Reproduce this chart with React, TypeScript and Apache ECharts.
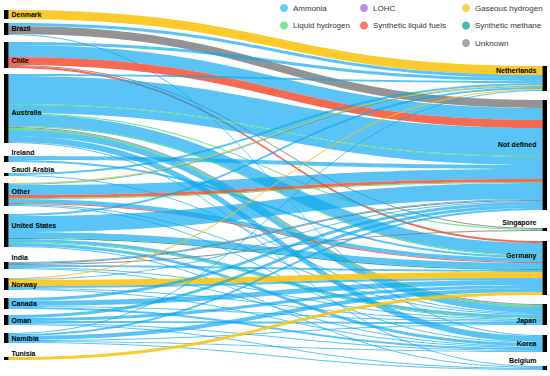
import React, { useEffect, useRef } from 'react';
import * as echarts from 'echarts';

// ---------- data ----------
const exporters = ['Denmark', 'Brazil', 'Chile', 'Australia', 'Ireland', 'Saudi Arabia', 'Other', 'United States', 'India', 'Norway', 'Canada', 'Oman', 'Namibia', 'Tunisia'];
const importers = ['Netherlands', 'Not defined', 'Singapore', 'Germany', 'Japan', 'Korea', 'Belgium'];
const carriers = ['Ammonia', 'LOHC', 'Gaseous hydrogen', 'Liquid hydrogen', 'Synthetic liquid fuels', 'Synthetic methane', 'Unknown'];

// [exporter, importer, carrier, volume]
const flows: [string, string, string, number][] = [
  ['Denmark', 'Netherlands', 'Gaseous hydrogen', 9],
  ['Brazil', 'Netherlands', 'Ammonia', 3],
  ['Brazil', 'Not defined', 'Unknown', 8],
  ['Brazil', 'Korea', 'Ammonia', 1],
  ['Chile', 'Netherlands', 'Ammonia', 3],
  ['Chile', 'Not defined', 'Ammonia', 12],
  ['Chile', 'Not defined', 'Synthetic liquid fuels', 8],
  ['Chile', 'Singapore', 'Unknown', 1],
  ['Chile', 'Germany', 'Synthetic liquid fuels', 2],
  ['Australia', 'Netherlands', 'Ammonia', 2],
  ['Australia', 'Not defined', 'Ammonia', 28],
  ['Australia', 'Not defined', 'Liquid hydrogen', 1],
  ['Australia', 'Not defined', 'Ammonia', 8],
  ['Australia', 'Singapore', 'Liquid hydrogen', 1],
  ['Australia', 'Germany', 'Ammonia', 12],
  ['Australia', 'Germany', 'Liquid hydrogen', 1],
  ['Australia', 'Japan', 'LOHC', 1],
  ['Australia', 'Japan', 'Liquid hydrogen', 2],
  ['Australia', 'Japan', 'Ammonia', 6],
  ['Australia', 'Korea', 'Ammonia', 6],
  ['Australia', 'Belgium', 'Ammonia', 1],
  ['Ireland', 'Not defined', 'Ammonia', 4],
  ['Ireland', 'Germany', 'Ammonia', 2],
  ['Saudi Arabia', 'Netherlands', 'Ammonia', 2],
  ['Saudi Arabia', 'Japan', 'Ammonia', 1],
  ['Other', 'Netherlands', 'Gaseous hydrogen', 1],
  ['Other', 'Netherlands', 'Ammonia', 1],
  ['Other', 'Not defined', 'Ammonia', 10],
  ['Other', 'Not defined', 'Synthetic liquid fuels', 3],
  ['Other', 'Not defined', 'Liquid hydrogen', 1],
  ['Other', 'Germany', 'Ammonia', 4],
  ['Other', 'Germany', 'Synthetic liquid fuels', 1],
  ['Other', 'Japan', 'Ammonia', 1],
  ['Other', 'Korea', 'Ammonia', 1],
  ['United States', 'Netherlands', 'Ammonia', 2],
  ['United States', 'Not defined', 'Ammonia', 16],
  ['United States', 'Germany', 'Ammonia', 6],
  ['United States', 'Germany', 'Synthetic methane', 1],
  ['United States', 'Japan', 'Ammonia', 3],
  ['United States', 'Japan', 'Liquid hydrogen', 1],
  ['United States', 'Korea', 'Ammonia', 3],
  ['United States', 'Belgium', 'Ammonia', 1],
  ['India', 'Not defined', 'Ammonia', 1],
  ['India', 'Not defined', 'Unknown', 1],
  ['India', 'Singapore', 'Unknown', 1],
  ['India', 'Germany', 'Ammonia', 2],
  ['India', 'Japan', 'Ammonia', 1],
  ['India', 'Korea', 'Ammonia', 1],
  ['Norway', 'Netherlands', 'Gaseous hydrogen', 1],
  ['Norway', 'Not defined', 'Ammonia', 1],
  ['Norway', 'Germany', 'Gaseous hydrogen', 6],
  ['Norway', 'Germany', 'Ammonia', 2],
  ['Norway', 'Japan', 'Ammonia', 1],
  ['Norway', 'Korea', 'Ammonia', 1],
  ['Canada', 'Not defined', 'Ammonia', 3],
  ['Canada', 'Germany', 'Ammonia', 5],
  ['Canada', 'Japan', 'Ammonia', 1],
  ['Canada', 'Korea', 'Ammonia', 2],
  ['Oman', 'Not defined', 'Ammonia', 3],
  ['Oman', 'Germany', 'Ammonia', 3],
  ['Oman', 'Japan', 'Ammonia', 2],
  ['Oman', 'Korea', 'Ammonia', 1],
  ['Oman', 'Belgium', 'Ammonia', 1],
  ['Namibia', 'Netherlands', 'Ammonia', 1],
  ['Namibia', 'Not defined', 'Ammonia', 2],
  ['Namibia', 'Germany', 'Ammonia', 4],
  ['Namibia', 'Japan', 'Ammonia', 1],
  ['Namibia', 'Korea', 'Ammonia', 1],
  ['Namibia', 'Belgium', 'Ammonia', 1],
  ['Tunisia', 'Germany', 'Gaseous hydrogen', 3],
];

// ---------- layout & style ----------
const CHART_TOP = 10;
const CHART_H = 360;
const exporterTop = [10, 23, 42, 74, 156, 173, 183, 214, 262, 278, 298, 315, 333, 357];
const importerTop = [66, 100, 228, 241, 304, 335, 366];
const exporterLabelDy = [0, -1, 5, 4, -7, -5, -3, -5, -8, 0, 0, 0, 0, -5];
const importerLabelDy = [-8, -11, -7, -13, 6, 0, -8];

const legendColors: Record<string, string> = {
  'Ammonia': '#33C3F4',
  'LOHC': '#A66DE3',
  'Gaseous hydrogen': '#F9C513',
  'Liquid hydrogen': '#5CDB7A',
  'Synthetic liquid fuels': '#F4573A',
  'Synthetic methane': '#13A89A',
  'Unknown': '#909090',
};
const linkColors: Record<string, string> = {
  'Ammonia': 'rgba(10,168,240,0.68)',
  'LOHC': 'rgba(160,100,225,0.85)',
  'Gaseous hydrogen': 'rgba(249,197,19,0.9)',
  'Liquid hydrogen': 'rgba(80,218,110,0.85)',
  'Synthetic liquid fuels': 'rgba(244,80,50,0.85)',
  'Synthetic methane': 'rgba(10,160,145,0.85)',
  'Unknown': 'rgba(128,128,128,0.85)',
};
const legendColumns = [
  { left: 280, items: ['Ammonia', 'Liquid hydrogen'] },
  { left: 360, items: ['LOHC', 'Synthetic liquid fuels'] },
  { left: 462, items: ['Gaseous hydrogen', 'Synthetic methane', 'Unknown'] },
];
const FONT = 'Liberation Sans, Arial, Helvetica, sans-serif';

export default function App() {
  const ref = useRef<HTMLDivElement>(null);
  useEffect(() => {
    if (!ref.current) return;
    const chart = echarts.init(ref.current, undefined, { renderer: 'svg' });

    const nodes = [
      ...exporters.map((name, i) => ({
        name,
        localY: (exporterTop[i] - CHART_TOP) / CHART_H,
        label: { position: 'right', distance: 3, offset: [0, exporterLabelDy[i]] },
      })),
      ...importers.map((name, i) => ({
        name,
        localY: (importerTop[i] - CHART_TOP) / CHART_H,
        label: { position: 'left', distance: 6, offset: [0, importerLabelDy[i]] },
      })),
    ];
    const links = flows.map(([s, t, c, v]) => ({
      source: s,
      target: t,
      value: v,
      lineStyle: { color: linkColors[c], opacity: 1 },
    }));

    chart.setOption({
      animation: false,
      grid: { left: 0, top: 0, width: 1, height: 1, show: false },
      xAxis: { show: false, type: 'value' },
      yAxis: { show: false, type: 'value' },
      legend: legendColumns.map((col) => ({
        orient: 'vertical',
        left: col.left,
        top: 4,
        padding: 0,
        itemWidth: 8,
        itemHeight: 8,
        itemGap: 9.5,
        icon: 'circle',
        selectedMode: false,
        data: col.items,
        textStyle: { fontSize: 8, color: '#333', fontFamily: FONT },
      })),
      series: [
        {
          type: 'sankey',
          left: 4,
          right: 3,
          top: CHART_TOP,
          bottom: 376 - CHART_TOP - CHART_H,
          nodeWidth: 4.5,
          nodeGap: 126 / 13,
          layoutIterations: 0,
          draggable: false,
          emphasis: { disabled: true },
          itemStyle: { color: '#000', borderWidth: 0 },
          label: { fontSize: 7, fontWeight: 'bold', color: '#000', fontFamily: FONT },
          lineStyle: { curveness: 0.5 },
          data: nodes,
          links,
          z: 2,
        },
        ...carriers.map((c) => ({
          type: 'scatter',
          name: c,
          data: [],
          itemStyle: { color: legendColors[c] },
        })),
      ],
    });
    return () => chart.dispose();
  }, []);
  return <div ref={ref} style={{ position: 'absolute', left: 0, top: 0, width: 550, height: 376 }} />;
}
